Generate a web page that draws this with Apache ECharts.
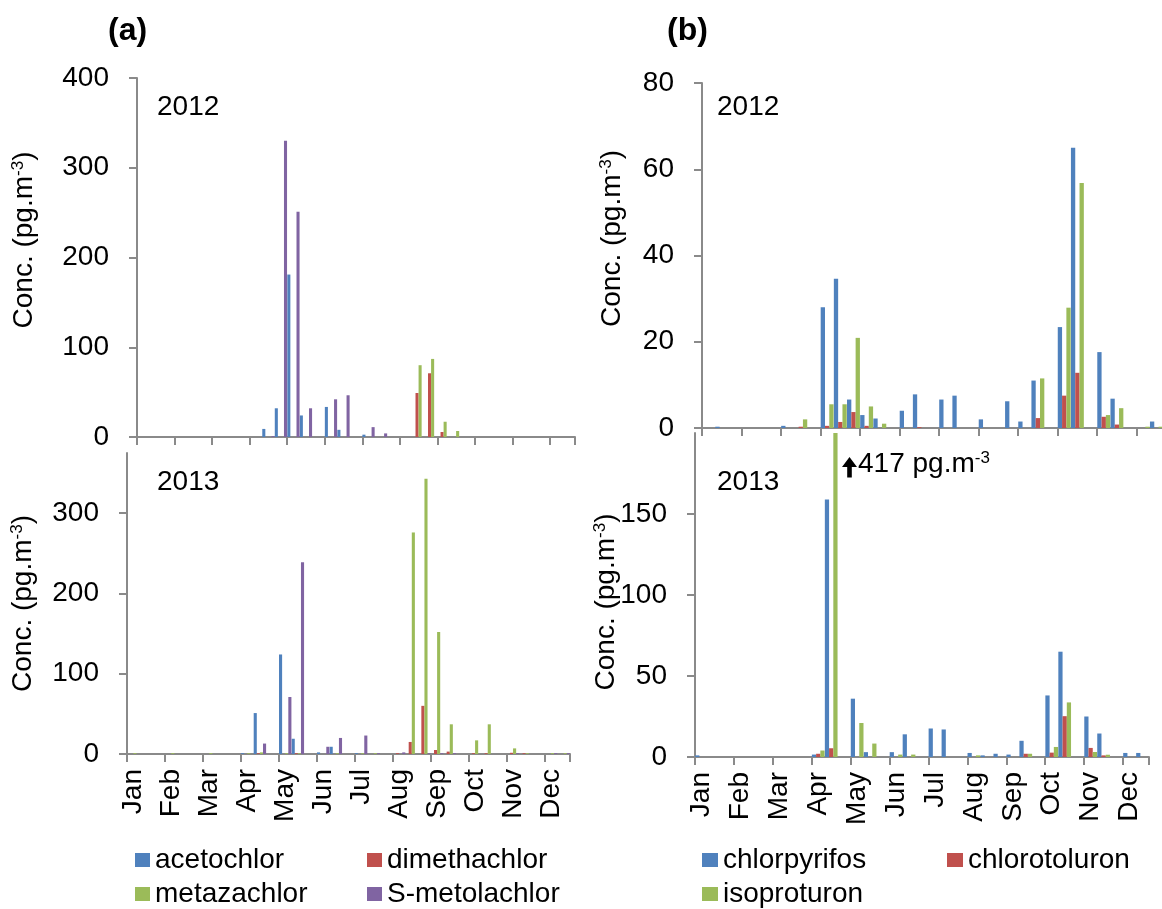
<!DOCTYPE html>
<html><head><meta charset="utf-8">
<script src="https://cdn.jsdelivr.net/npm/echarts@6/dist/echarts.min.js"></script>
<style>html,body{margin:0;padding:0;background:#fff}#c{width:1162px;height:909px}</style>
</head><body><div id="c"></div>
<script>
// 35 sampling periods (dekads), Jan 1st dekad ... Dec 2nd dekad
const dekads = ['Jan 1','Jan 2','Jan 3','Feb 1','Feb 2','Feb 3','Mar 1','Mar 2','Mar 3',
  'Apr 1','Apr 2','Apr 3','May 1','May 2','May 3','Jun 1','Jun 2','Jun 3',
  'Jul 1','Jul 2','Jul 3','Aug 1','Aug 2','Aug 3','Sep 1','Sep 2','Sep 3',
  'Oct 1','Oct 2','Oct 3','Nov 1','Nov 2','Nov 3','Dec 1','Dec 2'];

// (a) 2012
const a12_acetochlor   = [0,0,0,0,0, 0,0,0,0,0, 9,32,181,24,0, 33.5,8,0,2.6,0, 0,0,0,0,0, 0,0,0,0,0, 0,0,0,0,0];
const a12_dimethachlor = [0,0,0,0,0, 0,0,0,0,0, 0,0,0,0,0, 0,0,0,0,0, 0,0,49,71,5.6, 0,0,0,0,0, 0,0,0,0,0];
const a12_metazachlor  = [0,0,0,0,0, 0,0,0,0,0, 0,0,0,0,0, 0,0,0,0,0, 0,0,80,87,17, 6.7,0,0,0,0, 0,0,0,0,0];
const a12_smetolachlor = [0,0,0,0,0, 0,0,0,0,0, 1,330,251,32,0, 42,46.5,0,11,4, 0,0,0,0,0, 0,0,0,0,0, 0,0,0,0,0];
// (a) 2013
const a13_acetochlor   = [0,0,0,0,0, 0,0,0,0,1, 51,0,124,19,0, 2,9,0,1,0, 0,0,0,0,0, 0,0,0,0,0, 0,0,0,0,0];
const a13_dimethachlor = [0,0,0,0,0, 0,0,0,0,0, 1,0,0,1,0, 0,0,0,0,0, 0,1,15,60,5, 3,0,1,1,0, 1.5,1,0,0,0];
const a13_metazachlor  = [1,0,0,1,0, 0,1,0,0,1, 2,0,1,1,0, 0,1,0,1,1, 0,0,276,343,152, 37,0,17,37,0, 7,1,0,1,1];
const a13_smetolachlor = [0,0,0,0,0, 0,0,0,0,0, 13,0,71,239,0, 9,20,0,23,1, 0,2,0,1,1, 1,0,0,0,0, 1,0,0,1,1];
// (b) 2012
const b12_chlorpyrifos  = [0,0.3,0,0,0, 0,0.5,0,0,28, 34.6,6.6,3,2.2,0, 4,7.8,0,6.6,7.5, 0,2,0,6.2,1.5, 11,0,23.4,65,0, 17.6,6.8,0,0,1.5];
const b12_chlorotoluron = [0,0,0,0,0, 0,0,0.3,0,0.5, 1.4,3.7,0.5,0,0, 0,0.2,0,0,0, 0,0,0,0,0, 2.3,0,7.5,12.8,0, 2.6,0.8,0,0,0];
const b12_isoproturon   = [0,0,0,0,0, 0,0,2,0,5.5, 5.5,20.9,5,1,0, 0,0,0,0,0, 0,0,0,0,0, 11.5,0,27.9,56.8,0, 3,4.6,0,0.3,0.3];
// (b) 2013
const b13_chlorpyrifos  = [1,0,0,0,0, 0,0,0,0,1.5, 159,0,36,3,0, 3,14,0,17.6,17, 0,2.5,1,2,1.5, 10,0,38,65,0, 25,14.5,0,2.5,2.5];
const b13_chlorotoluron = [0,0,0,0,0, 0,0,0,0,2, 5.4,0,0,0,0, 0,0,0,0,0, 0,0,0,0,0, 2,0,2.7,25.2,0, 5.6,1,0,0,0];
const b13_isoproturon   = [0,0,0,0,0, 0,0,0,0,4, 417,0,21,8.3,0, 1.5,1.5,0,0,0, 0,1,0,0,0, 2,0,6.2,33.7,0, 3.1,1.4,0,0,0];

const namesA = ['acetochlor','dimethachlor','metazachlor','S-metolachlor'];
const namesB = ['chlorpyrifos','chlorotoluron','isoproturon'];
const yTicksA13 = [0,100,200,300];
const yTicksB13 = [0,50,100,150];

const COLORS = ['#4F81BD','#C0504D','#9BBB59','#8064A2'];
const AX = '#8a8a8a';
const FONT = '"Liberation Sans", Arial, sans-serif';

function xAxis(gi, showLabel){
  return {type:'category', gridIndex:gi, data:dekads, boundaryGap:true,
    axisLine:{show:true, lineStyle:{color:AX, width:2}},
    axisTick:{show:true, interval:2, alignWithLabel:false, length:8, lineStyle:{color:AX, width:2}},
    axisLabel:{show:showLabel, interval:2, rotate:90, margin:15, fontSize:28, fontFamily:FONT, color:'#000',
      formatter:v=>v.slice(0,3)},
    splitLine:{show:false}};
}
function yAxis(gi, max, interval, ticks, nameGap, pad){
  const ax = {type:'value', gridIndex:gi, min:0, max:max, interval:interval,
    axisLine:{show:true, lineStyle:{color:AX, width:2}},
    axisTick:{show:true, length:8, lineStyle:{color:AX, width:2}},
    axisLabel:{fontSize:28, fontFamily:FONT, color:'#000', margin:28},
    splitLine:{show:false},
    name:'Conc. (pg.m{s|-3})', nameLocation:'middle', nameGap:nameGap, nameMoveOverlap:false,
    nameTextStyle:{fontSize:28, fontFamily:FONT, color:'#000', lineHeight:28, padding:pad,
      rich:{s:{fontSize:17, fontFamily:FONT, color:'#000', verticalAlign:'top', lineHeight:28}}}};
  if (ticks){ ax.axisLabel.customValues = ticks; ax.axisTick.customValues = ticks; }
  return ax;
}
function bars(names, datas, gi){
  return names.map((n,i)=>({type:'bar', name:n, xAxisIndex:gi, yAxisIndex:gi, data:datas[i],
    itemStyle:{color:COLORS[i]}, barGap:'0%', barCategoryGap:'2%', clip:true}));
}
function txt(x, y, text, font){
  return {type:'text', x:x, y:y, style:{text:text, font:font, fill:'#000',
    textAlign:'left', textVerticalAlign:'middle', align:'left', verticalAlign:'middle'}};
}

const chart = echarts.init(document.getElementById('c'), null, {renderer:'canvas'});
chart.setOption({
  animation:false,
  backgroundColor:'#fff',
  grid:[
    {left:137, top:78, width:438, height:359, containLabel:false, outerBoundsMode:'none'},
    {left:127, top:453, width:443, height:301, containLabel:false, outerBoundsMode:'none'},
    {left:702, top:83, width:461, height:345, containLabel:false, outerBoundsMode:'none'},
    {left:695, top:433, width:454, height:324, containLabel:false, outerBoundsMode:'none'}
  ],
  xAxis:[xAxis(0,false), xAxis(1,true), xAxis(2,false), xAxis(3,true)],
  yAxis:[
    yAxis(0, 400, 100, null, 99, [0,0,0,35]),
    yAxis(1, 375, 100, yTicksA13, 90, [0,0,0,0]),
    yAxis(2, 80, 20, null, 76, [0,0,0,34]),
    yAxis(3, 200, 50, yTicksB13, 75, [0,14,0,0])
  ],
  legend:[
    {data:namesA, left:135, top:846, width:470, padding:0, orient:'horizontal', icon:'rect',
     itemWidth:15, itemHeight:14, itemGap:6, selectedMode:false,
     textStyle:{fontSize:28, fontFamily:FONT, color:'#000', width:206, lineHeight:28}},
    {data:namesB, left:702, top:846, width:500, padding:0, orient:'horizontal', icon:'rect',
     itemWidth:16, itemHeight:14, itemGap:6, selectedMode:false,
     textStyle:{fontSize:28, fontFamily:FONT, color:'#000', width:218, lineHeight:28}}
  ],
  graphic:[
    txt(108, 31, '(a)', 'bold 32px ' + FONT),
    txt(667, 31, '(b)', 'bold 32px ' + FONT),
    txt(157, 107.5, '2012', '28px ' + FONT),
    txt(157, 482, '2013', '28px ' + FONT),
    txt(717, 107.5, '2012', '28px ' + FONT),
    txt(717, 482, '2013', '28px ' + FONT),
    {type:'polygon', shape:{points:[[842,467],[849.5,457],[857,467],[851.8,467],[851.8,477.5],[847.2,477.5],[847.2,467]]},
     style:{fill:'#000'}},
    {type:'text', x:858, y:464, style:{text:'{t|417 pg.m}{s|-3}', fill:'#000',
      textAlign:'left', textVerticalAlign:'middle', align:'left', verticalAlign:'middle',
      font:'28px ' + FONT,
      rich:{t:{fontSize:28, fontFamily:FONT, lineHeight:28},
            s:{fontSize:17, fontFamily:FONT, verticalAlign:'top', lineHeight:28}}}}
  ],
  series:[].concat(
    bars(namesA, [a12_acetochlor, a12_dimethachlor, a12_metazachlor, a12_smetolachlor], 0),
    bars(namesA, [a13_acetochlor, a13_dimethachlor, a13_metazachlor, a13_smetolachlor], 1),
    bars(namesB, [b12_chlorpyrifos, b12_chlorotoluron, b12_isoproturon], 2),
    bars(namesB, [b13_chlorpyrifos, b13_chlorotoluron, b13_isoproturon], 3)
  )
});
</script></body></html>
